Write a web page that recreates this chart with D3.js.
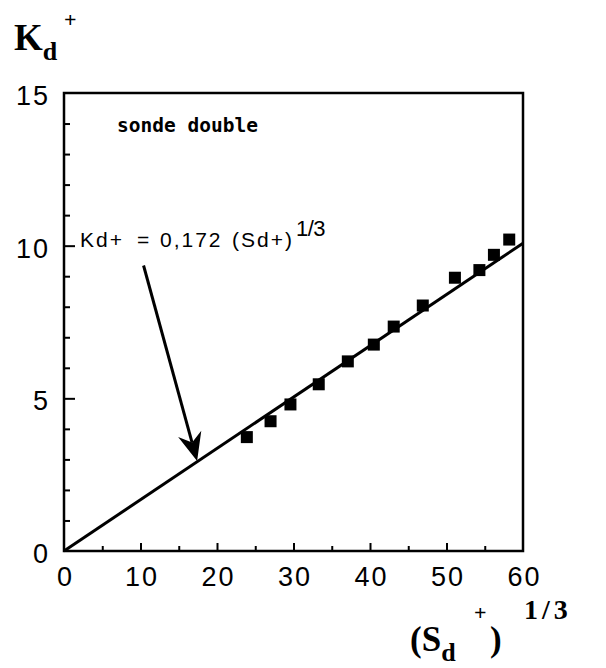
<!DOCTYPE html>
<html><head><meta charset="utf-8">
<script src="https://cdn.jsdelivr.net/npm/d3@7"></script>
<style>body{margin:0;background:#fff}svg{display:block}</style>
</head><body>
<svg id="c" width="606" height="668"></svg>
<script>
// Data
const sdX = [23.9, 27.0, 29.6, 33.3, 37.1, 40.5, 43.1, 46.9, 51.1, 54.3, 56.2, 58.2];
const kdY = [3.73, 4.25, 4.80, 5.46, 6.21, 6.76, 7.35, 8.04, 8.95, 9.20, 9.70, 10.20];
const lineSlope = 0.168;          // slope of the drawn line
const fitRange = [0, 60];
const xTicks = [0, 10, 20, 30, 40, 50, 60];
const yTicks = [0, 5, 10, 15];
const arrowFrom = [10.4, 9.35];
const arrowTo = [17.4, 2.95];

const svg = d3.select("#c");
const L = 64, R = 523, T = 93, B = 551;
const x = d3.scaleLinear().domain([0, 60]).range([L, R]);
const y = d3.scaleLinear().domain([0, 15]).range([B, T]);
const sans = "Liberation Sans, Arial, sans-serif";

// frame
svg.append("rect").attr("x", L).attr("y", T).attr("width", R - L).attr("height", B - T)
  .attr("fill", "none").attr("stroke", "#000").attr("stroke-width", 2.5);

// y minor/major ticks (inward)
const yMinor = d3.range(1, 15).filter(v => v % 5 !== 0);
svg.append("g").attr("transform", `translate(${L},0)`)
  .call(d3.axisRight(y).tickValues(yMinor).tickSize(6).tickFormat(""))
  .call(g => g.select(".domain").remove())
  .selectAll("line").attr("stroke-width", 2);
svg.append("g").attr("transform", `translate(${L},0)`)
  .call(d3.axisRight(y).tickValues([5, 10]).tickSize(11).tickFormat(""))
  .call(g => g.select(".domain").remove())
  .selectAll("line").attr("stroke-width", 2);
// y labels
svg.append("g").attr("transform", `translate(${L},3)`)
  .call(d3.axisLeft(y).tickValues(yTicks).tickSize(0).tickPadding(14).tickFormat(d3.format("d")))
  .call(g => g.select(".domain").remove())
  .selectAll("text").attr("font-family", sans)
  .attr("font-size", 27).attr("letter-spacing", 2).attr("fill", "#000");

// x ticks
const xMinor = d3.range(5, 60, 10);
svg.append("g").attr("transform", `translate(0,${B})`)
  .call(d3.axisTop(x).tickValues(xMinor).tickSize(5).tickFormat(""))
  .call(g => g.select(".domain").remove())
  .selectAll("line").attr("stroke-width", 2);
svg.append("g").attr("transform", `translate(0,${B})`)
  .call(d3.axisTop(x).tickValues([10, 20, 30, 40, 50]).tickSize(8).tickFormat(""))
  .call(g => g.select(".domain").remove())
  .selectAll("line").attr("stroke-width", 2);
svg.append("g").attr("transform", `translate(1,${B})`)
  .call(d3.axisBottom(x).tickValues(xTicks).tickSize(0).tickPadding(16).tickFormat(d3.format("d")))
  .call(g => g.select(".domain").remove())
  .selectAll("text").attr("font-family", sans)
  .attr("font-size", 27).attr("letter-spacing", 2).attr("fill", "#000");

// fitted line
svg.append("line")
  .attr("x1", x(fitRange[0])).attr("y1", y(lineSlope * fitRange[0]))
  .attr("x2", x(fitRange[1])).attr("y2", y(lineSlope * fitRange[1]))
  .attr("stroke", "#000").attr("stroke-width", 3);

// points
const pts = sdX.map((v, i) => [v, kdY[i]]);
svg.append("g").selectAll("rect").data(pts).join("rect")
  .attr("x", d => x(d[0]) - 6).attr("y", d => y(d[1]) - 6)
  .attr("width", 12).attr("height", 12).attr("fill", "#000");

// arrow
const ax1 = x(arrowFrom[0]), ay1 = y(arrowFrom[1]), ax2 = x(arrowTo[0]), ay2 = y(arrowTo[1]);
const ang = Math.atan2(ay2 - ay1, ax2 - ax1);
const headLen = 28, headW = 12, notch = 9;
const bx = ax2 - headLen * Math.cos(ang), by = ay2 - headLen * Math.sin(ang);
const nx = ax2 - (headLen - notch) * Math.cos(ang), ny = ay2 - (headLen - notch) * Math.sin(ang);
const px = -Math.sin(ang), py = Math.cos(ang);
svg.append("line").attr("x1", ax1).attr("y1", ay1).attr("x2", nx).attr("y2", ny)
  .attr("stroke", "#000").attr("stroke-width", 3);
svg.append("path").attr("d",
  `M${ax2},${ay2} L${bx + px * headW},${by + py * headW} L${nx},${ny} L${bx - px * headW},${by - py * headW} Z`)
  .attr("fill", "#000");

// annotations
svg.append("text").attr("x", 117).attr("y", 132).text("sonde double")
  .attr("font-family", "DejaVu Sans Mono, Liberation Mono, monospace").attr("font-weight", "bold")
  .attr("font-size", 19.5);

const eqParts = [["Kd+", 80], ["=", 137], ["0,172", 160], ["(Sd+)", 232]];
const eqG = svg.append("g").attr("font-family", sans).attr("font-size", 21);
eqParts.forEach(([t, xx]) => eqG.append("text").attr("x", xx).attr("y", 247)
  .attr("letter-spacing", 2).text(t));
eqG.append("text").attr("x", 296).attr("y", 236).attr("font-size", 22)
  .attr("letter-spacing", -0.5)
  .attr("font-family", "Liberation Sans Narrow, Liberation Sans, sans-serif").text("1/3");

// axis titles
const serif = "Liberation Serif, Times New Roman, serif";
const yt = svg.append("text").attr("x", 14).attr("y", 50).attr("font-family", serif).attr("font-weight", "bold");
yt.append("tspan").attr("font-size", 37).text("K");
yt.append("tspan").attr("font-size", 26).attr("dy", 10).text("d");
svg.append("text").attr("x", 64).attr("y", 27).attr("font-family", serif).attr("font-weight", "bold")
  .attr("font-size", 22).text("+");

const xt = svg.append("text").attr("x", 410).attr("y", 651).attr("font-family", serif).attr("font-weight", "bold");
xt.append("tspan").attr("font-size", 35).text("(S");
xt.append("tspan").attr("font-size", 26).attr("dy", 10).text("d");
svg.append("text").attr("x", 474).attr("y", 620).attr("font-family", serif).attr("font-weight", "bold")
  .attr("font-size", 22).text("+");
svg.append("text").attr("x", 490).attr("y", 651).attr("font-family", serif).attr("font-weight", "bold")
  .attr("font-size", 35).text(")");
svg.append("text").attr("x", 524).attr("y", 619).attr("font-family", serif).attr("font-weight", "bold")
  .attr("font-size", 28).attr("letter-spacing", 4).text("1/3");
</script>
</body></html>
